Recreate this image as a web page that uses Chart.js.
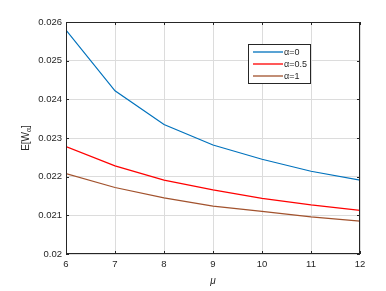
<!DOCTYPE html>
<html><head><meta charset="utf-8">
<script src="https://cdn.jsdelivr.net/npm/chart.js@4.4.0/dist/chart.umd.min.js"></script>
<style>html,body{margin:0;padding:0;background:#fff}#wrap{width:386px;height:291px}</style>
</head><body><div id="wrap"><canvas id="c" width="386" height="291"></canvas></div>
<script>
const muValues = [6, 7, 8, 9, 10, 11, 12];
const alpha0 = [0.02579, 0.02422, 0.02335, 0.02282, 0.02245, 0.02214, 0.02191];
const alpha05 = [0.02278, 0.02228, 0.02191, 0.02166, 0.02144, 0.02127, 0.02113];
const alpha1 = [0.02208, 0.02172, 0.02145, 0.02124, 0.02110, 0.02096, 0.02085];
const seriesLabels = ['α=0', 'α=0.5', 'α=1'];
const yTicks = [0.020, 0.021, 0.022, 0.023, 0.024, 0.025, 0.026];

const colors = ['#0072BD', '#FF0000', '#A2522D'];
const FONT = '"Liberation Sans", Arial, sans-serif';
const TXT = '#262626';

const framePlugin = {
  id: 'frame',
  afterDatasetsDraw(chart) {
    const {ctx, chartArea: a, scales} = chart;
    ctx.save();
    ctx.strokeStyle = TXT; ctx.lineWidth = 1;
    ctx.strokeRect(a.left + 0.5, a.top + 0.5, a.right - a.left - 1, a.bottom - a.top - 1);
    const tl = 3;
    ctx.beginPath();
    muValues.forEach(v => {
      const x = Math.round(scales.x.getPixelForValue(v)) + 0.5;
      ctx.moveTo(x, a.bottom); ctx.lineTo(x, a.bottom - tl);
      ctx.moveTo(x, a.top); ctx.lineTo(x, a.top + tl);
    });
    yTicks.forEach(v => {
      const y = Math.round(scales.y.getPixelForValue(v)) + 0.5;
      ctx.moveTo(a.left, y); ctx.lineTo(a.left + tl, y);
      ctx.moveTo(a.right, y); ctx.lineTo(a.right - tl, y);
    });
    ctx.stroke();
    // legend box
    const bx = 248, by = 44, bw = 62, bh = 39;
    ctx.fillStyle = '#fff';
    ctx.fillRect(bx, by, bw, bh);
    ctx.strokeStyle = '#262626';
    ctx.strokeRect(bx + 0.5, by + 0.5, bw, bh);
    chart.data.datasets.forEach((ds, i) => {
      const y = by + 8 + i * 12;
      ctx.strokeStyle = ds.borderColor; ctx.globalAlpha = 0.65; ctx.lineWidth = 2;
      ctx.beginPath(); ctx.moveTo(253, y); ctx.lineTo(283, y); ctx.stroke();
      ctx.globalAlpha = 1; ctx.lineWidth = 1;
      ctx.fillStyle = TXT; ctx.font = '9px ' + FONT;
      ctx.textBaseline = 'middle'; ctx.textAlign = 'left';
      ctx.fillText(ds.label, 284, y + 0.5);
    });
    // axis titles
    ctx.fillStyle = TXT;
    ctx.font = 'italic 10px ' + FONT;
    ctx.textAlign = 'center'; ctx.textBaseline = 'middle';
    ctx.fillText('μ', (a.left + a.right) / 2, 281);
    ctx.translate(26, (a.top + a.bottom) / 2);
    ctx.rotate(-Math.PI / 2);
    ctx.font = '10px ' + FONT;
    ctx.textAlign = 'left';
    const p1 = 'E[W', p2 = 'α', p3 = ']';
    ctx.font = '10px ' + FONT;
    const w1 = ctx.measureText(p1).width;
    ctx.font = '7px ' + FONT;
    const w2 = ctx.measureText(p2).width;
    ctx.font = '10px ' + FONT;
    const w3 = ctx.measureText(p3).width;
    let x0 = -(w1 + w2 + w3) / 2;
    ctx.fillText(p1, x0, 0);
    ctx.font = '7px ' + FONT;
    ctx.fillText(p2, x0 + w1, 3);
    ctx.font = '10px ' + FONT;
    ctx.fillText(p3, x0 + w1 + w2, 0);
    ctx.restore();
  }
};

new Chart(document.getElementById('c'), {
  type: 'line',
  data: {
    datasets: [alpha0, alpha05, alpha1].map((arr, i) => ({
      label: seriesLabels[i],
      data: muValues.map((m, j) => ({x: m, y: arr[j]})),
      borderColor: colors[i],
      backgroundColor: colors[i],
      borderWidth: 1.2,
      pointRadius: 0,
      tension: 0,
      fill: false
    }))
  },
  options: {
    responsive: false,
    animation: false,
    layout: {padding: {left: 0, top: 22, right: 26, bottom: 0}},
    plugins: {legend: {display: false}, tooltip: {enabled: false}},
    scales: {
      x: {
        type: 'linear', min: 6, max: 12,
        afterBuildTicks: s => { s.ticks = muValues.map(v => ({value: v})); },
        afterFit: s => { s.height = 37; },
        grid: {color: '#dcdcdc', drawTicks: false},
        border: {display: false},
        ticks: {color: TXT, font: {family: FONT, size: 9.5}, padding: 5, maxRotation: 0,
                callback: v => String(v)}
      },
      y: {
        type: 'linear', min: 0.020, max: 0.026,
        afterBuildTicks: s => { s.ticks = yTicks.map(v => ({value: v})); },
        afterFit: s => { s.width = 66; },
        grid: {color: '#dcdcdc', drawTicks: false},
        border: {display: false},
        ticks: {color: TXT, font: {family: FONT, size: 9.5}, padding: 4,
                callback: v => (Math.round(v * 1000) / 1000).toString()}
      }
    }
  },
  plugins: [framePlugin]
});
</script></body></html>
